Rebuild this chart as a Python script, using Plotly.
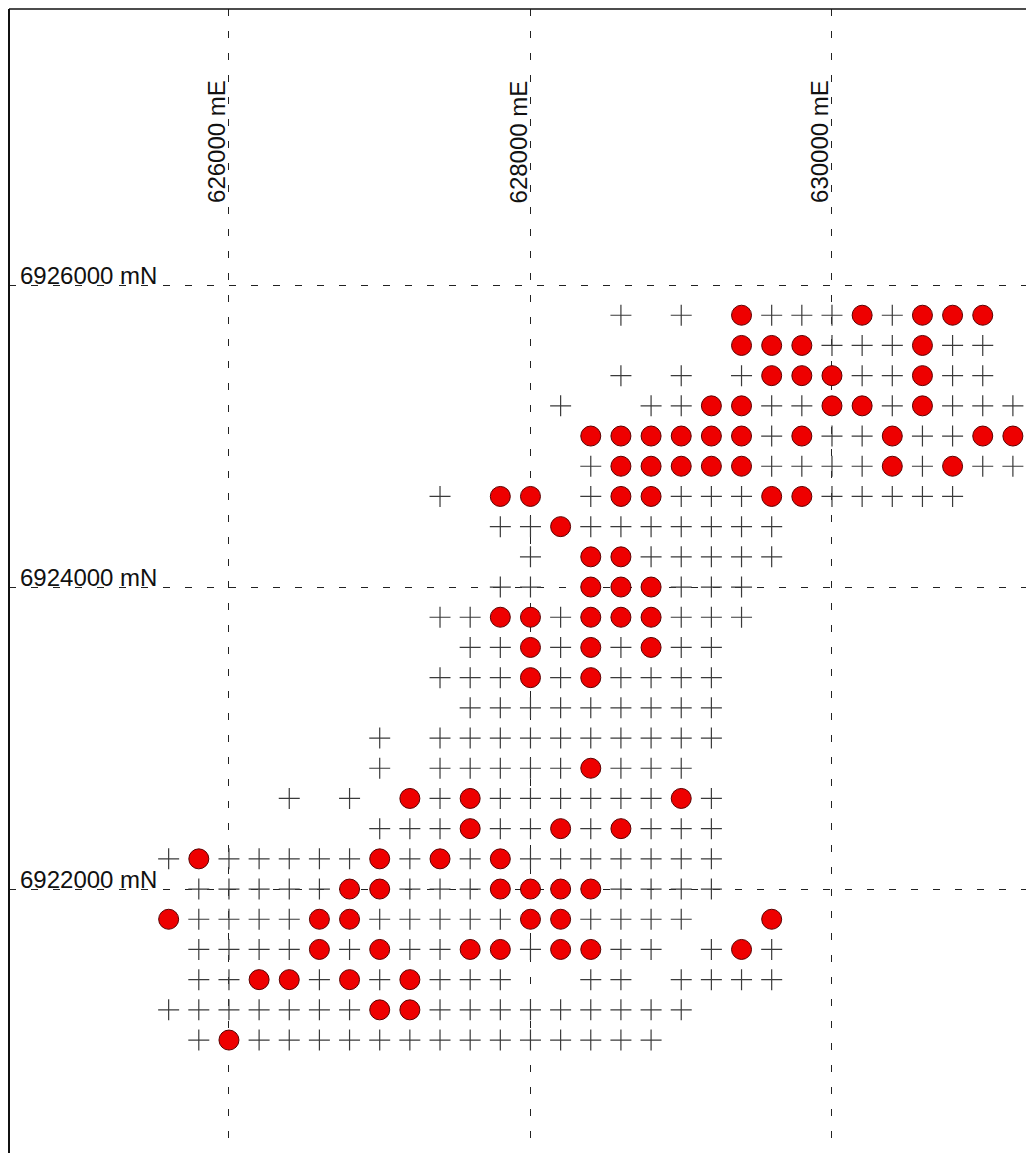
import plotly.graph_objects as go

# Grid of sample positions (metres)
eastings = [625600 + 200 * i for i in range(29)]      # 625600 ... 631200
northings = [6925800 - 200 * j for j in range(25)]    # 6925800 ... 6921000

# One string per northing row, one character per easting column:
# 'o' = anomalous sample (red dot), '+' = sample location, '.' = no sample
sample_rows = [
    "...............+.+.o+++o+ooo.",   # 6925800
    "...................ooo+++o++.",   # 6925600
    "...............+.+.+ooo++o++.",   # 6925400
    ".............+..++oo++oo+o+++",   # 6925200
    "..............oooooo+o++o++oo",   # 6925000
    "..............+ooooo++++o+o++",   # 6924800
    ".........+.oo.+oo+++oo+++++..",   # 6924600
    "...........++o+++++++........",   # 6924400
    "............+.oo+++++........",   # 6924200
    "...........++.ooo+++.........",   # 6924000
    ".........++oo+ooo+++.........",   # 6923800
    "..........++o+o+o++..........",   # 6923600
    ".........+++o+o++++..........",   # 6923400
    "..........+++++++++..........",   # 6923200
    ".......+.++++++++++..........",   # 6923000
    ".......+.+++++o+++...........",   # 6922800
    "....+.+.o+o++++++o+..........",   # 6922600
    ".......+++o++o+o+++..........",   # 6922400
    "+o+++++o+o+o+++++++..........",   # 6922200
    ".+++++oo+++oooo++++..........",   # 6922000
    "o++++oo+++++oo++++..o........",   # 6921800
    ".++++o+o++oo+oo++.+o+........",   # 6921600
    ".++oo+o+o+++..++.++++........",   # 6921400
    "+++++++oo+++++++++...........",   # 6921200
    ".+o++++++++++++++............",   # 6921000
]

grid_eastings = [626000, 628000, 630000]
grid_northings = [6926000, 6924000, 6922000]
east_labels = ["626000 mE", "628000 mE", "630000 mE"]
north_labels = ["6926000 mN", "6924000 mN", "6922000 mN"]

x_range = [624541, 631340]
y_range = [6920252, 6927828]

plus_x, plus_y, dot_x, dot_y = [], [], [], []
for n, row in zip(northings, sample_rows):
    for e, ch in zip(eastings, row):
        if ch == "+":
            plus_x.append(e); plus_y.append(n)
        elif ch == "o":
            dot_x.append(e); dot_y.append(n)

fig = go.Figure()
fig.add_trace(go.Scatter(
    x=plus_x, y=plus_y, mode="markers",
    marker=dict(symbol="cross-thin", size=15, line=dict(color="#3a3a3a", width=1.2)),
    hoverinfo="skip", showlegend=False))
fig.add_trace(go.Scatter(
    x=dot_x, y=dot_y, mode="markers",
    marker=dict(symbol="circle", size=20, color="#ee0000", line=dict(color="#5a0000", width=1)),
    hoverinfo="skip", showlegend=False))

dash = "7px,15px"
fig.update_xaxes(range=x_range, tickvals=grid_eastings, showticklabels=False, ticks="",
                 showgrid=True, gridcolor="#222222", gridwidth=1, griddash=dash,
                 zeroline=False, showline=False, fixedrange=True)
fig.update_yaxes(range=y_range, tickvals=grid_northings, showticklabels=False, ticks="",
                 showgrid=True, gridcolor="#222222", gridwidth=1, griddash=dash,
                 zeroline=False, showline=False, fixedrange=True)

label_font = dict(family="Liberation Sans, Arial", size=24, color="#111111")
annotations = []
for e, lab in zip(grid_eastings, east_labels):
    annotations.append(dict(x=e, xref="x", y=0.8287, yref="paper", text=lab,
                            textangle=-90, xanchor="right", yanchor="bottom",
                            xshift=3, showarrow=False, font=label_font))
for n, lab in zip(grid_northings, north_labels):
    annotations.append(dict(x=0.009, xref="paper", y=n, yref="y", text=lab,
                            xanchor="left", yanchor="bottom", yshift=-6, showarrow=False,
                            font=label_font))

fig.update_layout(
    width=1026, height=1145,
    margin=dict(l=1, r=0, t=1, b=0),
    paper_bgcolor="white", plot_bgcolor="white",
    annotations=annotations,
    shapes=[
        dict(type="line", xref="paper", yref="paper", x0=0, x1=0, y0=0, y1=1,
             line=dict(color="#111111", width=2)),
        dict(type="line", xref="paper", yref="paper", x0=0, x1=1, y0=1, y1=1,
             line=dict(color="#111111", width=1.5)),
    ],
)

fig.write_html("out.html")
